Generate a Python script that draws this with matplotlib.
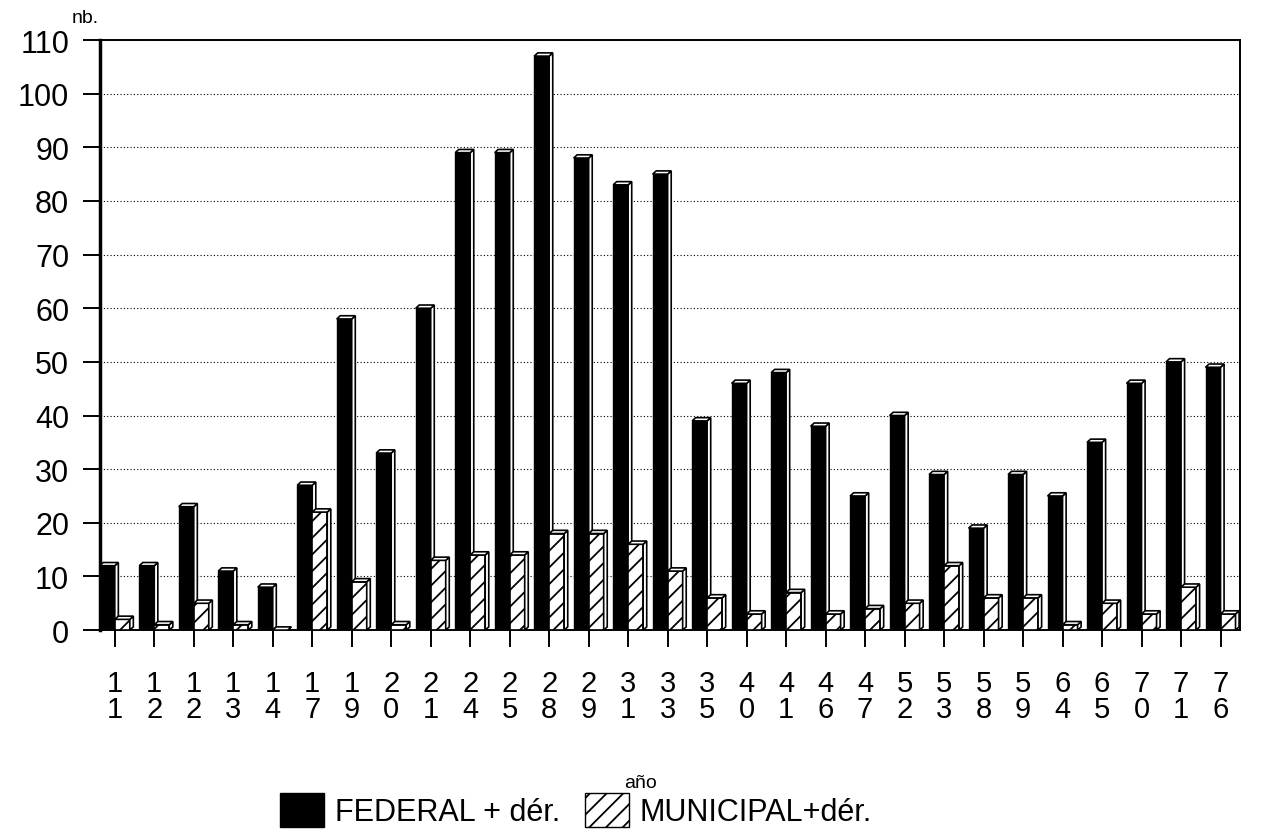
import matplotlib
matplotlib.use("Agg")
import matplotlib.pyplot as plt
from matplotlib.patches import Polygon, Patch
import numpy as np

plt.rcParams['font.family'] = ['Liberation Sans', 'DejaVu Sans']
plt.rcParams['hatch.linewidth'] = 1.3

years = ["11", "12", "12", "13", "14", "17", "19", "20", "21", "24", "25", "28", "29",
         "31", "33", "35", "40", "41", "46", "47", "52", "53", "58", "59", "64", "65",
         "70", "71", "76"]
federal = [12, 12, 23, 11, 8, 27, 58, 33, 60, 89, 89, 107, 88, 83, 85, 39, 46, 48,
           38, 25, 40, 29, 19, 29, 25, 35, 46, 50, 49]
municipal = [2, 1, 5, 1, 0, 22, 9, 1, 13, 14, 14, 18, 18, 16, 11, 6, 3, 7, 3, 4, 5,
             12, 6, 6, 1, 5, 3, 8, 3]
series_labels = ["FEDERAL + dér.", "MUNICIPAL+dér."]

fig = plt.figure(figsize=(12.63, 8.37), dpi=100)
ax = fig.add_axes([0.079, 0.246, 0.903, 0.705])

x = np.arange(len(years))
w = 0.38
dx, dy = 0.09, 0.6


def faces(x0, h):
    side = Polygon([(x0 + w, 0), (x0 + w + dx, dy), (x0 + w + dx, h + dy), (x0 + w, h)],
                   closed=True, facecolor='white', edgecolor='black', lw=1.2)
    top = Polygon([(x0, h), (x0 + dx, h + dy), (x0 + w + dx, h + dy), (x0 + w, h)],
                  closed=True, facecolor='white', edgecolor='black', lw=1.2)
    return side, top


z = 3
for i in range(len(years)):
    x0 = x[i] - w
    ax.bar(x0, federal[i], width=w, align='edge', color='black', edgecolor='black',
           lw=1.0, zorder=z)
    for p in faces(x0, federal[i]):
        p.set_zorder(z)
        ax.add_patch(p)
    z += 1
    x1 = x[i] + 0.0
    ax.bar(x1, municipal[i], width=w, align='edge', facecolor='white', edgecolor='black',
           hatch='//', lw=1.2, zorder=z)
    for p in faces(x1, municipal[i]):
        p.set_zorder(z)
        ax.add_patch(p)
    z += 1

ax.set_xlim(-0.38, 28.5)
ax.set_ylim(0, 110)
ax.set_yticks(np.arange(0, 111, 10))
ax.set_xticks(x)
ax.set_xticklabels([f"{s[0]}\n{s[1]}" for s in years], linespacing=0.9)
ax.tick_params(axis='both', direction='out', length=12, width=1.4, labelsize=21,
               colors='black')
ax.tick_params(axis='x', pad=16)
ax.tick_params(axis='y', pad=10, labelsize=22)
ax.grid(axis='y', linestyle=(0, (1, 2)), color='black', lw=0.8, zorder=0)
ax.set_axisbelow(True)
for s in ax.spines.values():
    s.set_linewidth(1.4)
ax.spines['left'].set_linewidth(2.5)

fig.text(0.057, 0.978, "nb.", fontsize=14, ha='left', va='center')
fig.text(0.507, 0.064, "año", fontsize=14, ha='center', va='center')

handles = [Patch(facecolor='black', edgecolor='black'),
           Patch(facecolor='white', edgecolor='black', hatch='//')]
fig.legend(handles, series_labels, loc='lower left', bbox_to_anchor=(0.200, -0.022),
           ncol=2, frameon=False, fontsize=22, handlelength=1.45, handleheight=1.35,
           handletextpad=0.35, columnspacing=0.8)

fig.savefig("out.png", dpi=100)
